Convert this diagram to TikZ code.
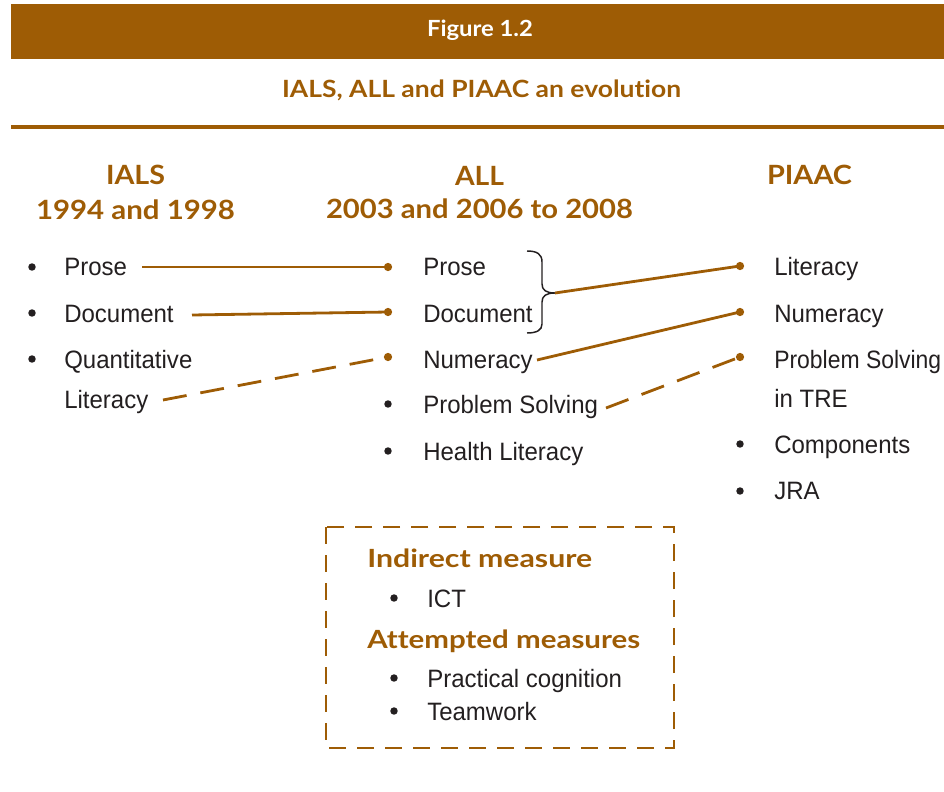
\documentclass[tikz,border=0pt]{standalone}
\usepackage{fontspec}
\usepackage{graphicx}
\setmainfont{Liberation Sans}[FakeStretch=0.955]
\newfontfamily\hdfont{Lato}[Ligatures=NoCommon]
\definecolor{brn}{RGB}{158,92,5}
\definecolor{ink}{RGB}{35,31,32}
\newsavebox\fitbox
\newcommand\fitw[2]{\sbox\fitbox{#2}\pgfmathsetmacro\fitratio{#1*0.75/\the\wd\fitbox}\scalebox{\fitratio}[1]{\usebox\fitbox}}
\tikzset{
  hd/.style={font=\hdfont\bfseries\fontsize{19.9}{22}\selectfont, text=brn, inner sep=0pt, anchor=base},
  boxhd/.style={font=\hdfont\bfseries\fontsize{18.8}{21}\selectfont, text=brn, inner sep=0pt, anchor=base west},
  ttl/.style={font=\hdfont\bfseries\fontsize{17.8}{20}\selectfont, text=brn, inner sep=0pt, anchor=base},
  figt/.style={font=\hdfont\bfseries\fontsize{16.7}{19}\selectfont, text=white, inner sep=0pt, anchor=base},
  txt/.style={font=\fontsize{18.85}{22}\selectfont, text=ink, inner sep=0pt, anchor=base west},
  bul/.style={circle, fill=ink, inner sep=0pt, minimum size=5.6pt},
  bdot/.style={circle, fill=brn, inner sep=0pt, minimum size=6.2pt},
  conn/.style={draw=brn, line width=2.1pt},
  dconn/.style={draw=brn, line width=2.1pt, dash pattern=on 18pt off 10.5pt},
}
\begin{document}
\begin{tikzpicture}[x=0.75pt,y=-0.75pt]
\useasboundingbox (0,0) rectangle (944,791);
% header bar
\fill[brn] (11,4) rectangle (944,59);
\node[figt] (fig) at (480,37) {\fitw{106}{Figure 1.2}};
\node[ttl] (title) at (481.5,98) {\fitw{399}{IALS, ALL and PIAAC an evolution}};
\fill[brn] (11,125) rectangle (944,129);
% column headers
\node[hd] (h1a) at (135.5,185) {\fitw{59}{IALS}};
\node[hd] (h1b) at (135.5,220) {\fitw{199}{1994 and 1998}};
\node[hd] (h2a) at (479.5,186) {\fitw{49}{ALL}};
\node[hd] (h2b) at (479.5,219) {\fitw{307}{2003 and 2006 to 2008}};
\node[hd] (h3a) at (809.5,185) {\fitw{85}{PIAAC}};
% left column
\node[bul] (lb1) at (32,267) {};
\node[bul] (lb2) at (32,313) {};
\node[bul] (lb3) at (32,359) {};
\node[txt] (l1) at (64,276) {Prose};
\node[txt] (l2) at (64,322) {Document};
\node[txt] (l3) at (64,368) {Quantitative};
\node[txt] (l4) at (64,408) {Literacy};
% middle column
\node[bdot] (m1) at (388,267) {};
\node[bdot] (m2) at (388,312) {};
\node[bdot] (m3) at (388,357) {};
\node[bul] (mb4) at (388,404) {};
\node[bul] (mb5) at (388,451) {};
\node[txt] (mt1) at (423,276) {Prose};
\node[txt] (mt2) at (423,322) {Document};
\node[txt] (mt3) at (423,368) {Numeracy};
\node[txt] (mt4) at (423,413) {Problem Solving};
\node[txt] (mt5) at (423,460) {Health Literacy};
% right column
\node[bdot] (r1) at (740,266) {};
\node[bdot] (r2) at (740,312) {};
\node[bdot] (r3) at (740,357) {};
\node[bul] (rb4) at (740,444) {};
\node[bul] (rb5) at (740,491) {};
\node[txt] (rt1) at (774,276) {Literacy};
\node[txt] (rt2) at (774,322) {Numeracy};
\node[txt] (rt3) at (774,368) {\fitw{167}{Problem Solving}};
\node[txt] (rt3b) at (774,407) {in TRE};
\node[txt] (rt4) at (774,453) {Components};
\node[txt] (rt5) at (774,499) {JRA};
% connector start points
\coordinate (s1) at (142,267);
\coordinate (s2) at (192,315);
\coordinate (s3) at (163,400);
\coordinate (bt) at (555,293);
\coordinate (s5) at (537,360);
\coordinate (s6) at (606,408);
% brace
\draw[ink, line width=1.1pt] (527,251) .. controls (537,251) and (542,254) .. (542,262) -- (542,284)
  .. controls (542,290) and (546,293) .. (bt)
  .. controls (546,293) and (542,296) .. (542,302) -- (542,324)
  .. controls (542,330) and (537,333) .. (527,333);
% connectors
\draw[conn] (s1) -- (m1.center);
\draw[conn] (s2) -- (m2.center);
\draw[dconn] (s3) -- (m3.center);
\draw[conn] (bt) -- (r1.center);
\draw[conn] (s5) -- (r2.center);
\draw[dconn] (s6) -- (r3.center);
% dashed box
\draw[brn, line width=2pt, dash pattern=on 13pt off 8pt] (326,527) rectangle (674,748);
\node[boxhd] (bh1) at (367,567) {\fitw{225}{Indirect measure}};
\node[bul] (bb1) at (394,598) {};
\node[txt] (bx1) at (427,607) {ICT};
\node[boxhd] (bh2) at (367,648) {\fitw{273}{Attempted measures}};
\node[bul] (bb2) at (394,678) {};
\node[txt] (bx2) at (427,687) {Practical cognition};
\node[bul] (bb3) at (394,711) {};
\node[txt] (bx3) at (427,720) {Teamwork};
\end{tikzpicture}
\end{document}
